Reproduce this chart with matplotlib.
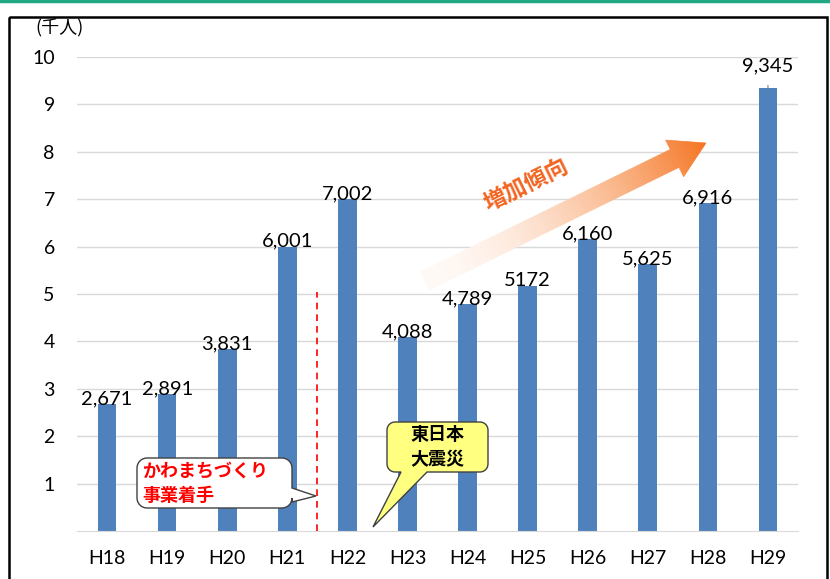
import numpy as np
import matplotlib
matplotlib.use("Agg")
import matplotlib.pyplot as plt
from matplotlib.patches import Polygon, Rectangle

plt.rcParams['font.family'] = ['Lato', 'Noto Sans CJK JP', 'DejaVu Sans']

# data (thousand people)
years = ["H18", "H19", "H20", "H21", "H22", "H23", "H24", "H25", "H26", "H27", "H28", "H29"]
visitors = [2.671, 2.891, 3.831, 6.001, 7.002, 4.088, 4.789, 5.172, 6.160, 5.625, 6.916, 9.345]
value_labels = ["2,671", "2,891", "3,831", "6,001", "7,002", "4,088", "4,789", "5172",
                "6,160", "5,625", "6,916", "9,345"]
y_ticks = [1, 2, 3, 4, 5, 6, 7, 8, 9, 10]

BAR_COLOR = "#4F81BD"
GRID_COLOR = "#D9D9D9"
JP = ['Noto Sans CJK JP', 'DejaVu Sans']

fig = plt.figure(figsize=(8.30, 5.79), dpi=100)
W, H = 830, 579
ax = fig.add_axes([77 / W, 1 - 531 / H, 721 / W, 474 / H])

x = np.arange(len(years))
ax.bar(x, visitors, width=0.31, color=BAR_COLOR, zorder=2)
ax.set_xlim(-0.5, len(years) - 0.5)
ax.set_ylim(0, 10)
ax.set_yticks(y_ticks)
ax.set_xticks(x)
ax.set_xticklabels(years)
ax.yaxis.grid(True, color=GRID_COLOR, lw=1)
ax.set_axisbelow(True)
for s in ["top", "right", "left"]:
    ax.spines[s].set_visible(False)
ax.spines["bottom"].set_color(GRID_COLOR)
ax.tick_params(axis="y", length=0, pad=16, labelsize=14)
ax.tick_params(axis="x", length=0, pad=14, labelsize=14)

# value labels above bars
for i, (v, lab) in enumerate(zip(visitors, value_labels)):
    if i == len(visitors) - 1:
        ax.annotate(lab, xy=(i, v), xytext=(0, 16), textcoords="offset points",
                    ha="center", va="center", fontsize=14.5,
                    arrowprops=dict(arrowstyle="-", color="#808080", lw=0.8,
                                    shrinkA=6, shrinkB=0))
    else:
        ax.annotate(lab, xy=(i, v), xytext=(0, 4), textcoords="offset points",
                    ha="center", va="center", fontsize=14.5)

# dashed line: start of the riverside project (between H21 and H22)
ax.plot([3.5, 3.5], [0, 5.05], color="#FF0000", lw=1.2, ls=(0, (4, 3)), zorder=3)

# overlay in pixel coordinates for decorations
ov = fig.add_axes([0, 0, 1, 1], zorder=5)
ov.set_xlim(0, W)
ov.set_ylim(H, 0)
ov.axis("off")
ov.patch.set_alpha(0)

ov.plot([0, W], [1, 1], color="#20A884", lw=2.5)
ov.add_patch(Rectangle((9, 17), 818, 600, fill=False, lw=1.8, ec="black"))
ov.text(35, 28, "(千人)", fontsize=13, family=JP, ha="left", va="center")


def callout(x0, y0, x1, y1, r, edge, p1, p2, tip):
    pts = []

    def arc(cx, cy, a0, a1):
        for a in np.linspace(a0, a1, 8):
            pts.append((cx + r * np.cos(a), cy + r * np.sin(a)))

    arc(x0 + r, y0 + r, np.pi, 1.5 * np.pi)
    arc(x1 - r, y0 + r, 1.5 * np.pi, 2 * np.pi)
    if edge == "right":
        pts.extend([(x1, p1), tip, (x1, p2)])
    arc(x1 - r, y1 - r, 0, 0.5 * np.pi)
    if edge == "bottom":
        pts.extend([(p2, y1), tip, (p1, y1)])
    arc(x0 + r, y1 - r, 0.5 * np.pi, np.pi)
    return pts


ov.add_patch(Polygon(callout(137, 458, 292, 508, 10, "right", 488, 502, (316, 496)),
                     closed=True, fc="white", ec="#404040", lw=1))
ov.text(142, 471, "かわまちづくり", color="#FF0000", fontsize=13, fontweight="bold",
        family=JP, ha="left", va="center")
ov.text(142, 495, "事業着手", color="#FF0000", fontsize=13, fontweight="bold",
        family=JP, ha="left", va="center")

ov.add_patch(Polygon(callout(387, 422, 488, 472, 8, "bottom", 401, 427, (373, 527)),
                     closed=True, fc="#FFFF80", ec="#404040", lw=1))
ov.text(437, 435, "東日本", fontsize=13, fontweight="bold", family=JP,
        ha="center", va="center")
ov.text(437, 460, "大震災", fontsize=13, fontweight="bold", family=JP,
        ha="center", va="center")

# gradient arrow "increasing trend"
tail = np.array([425.0, 281.0])
tip = np.array([706.0, 143.0])
d = tip - tail
L = np.hypot(*d)
u = d / L
nrm = np.array([u[1], -u[0]])
hw_shaft, hw_head, head_len = 10.0, 20.5, 35.0
Lb = L - head_len
orange = np.array([0.96, 0.45, 0.12])
s_vals = np.concatenate([np.linspace(0, Lb, 60), np.linspace(Lb, L, 16)[1:]])
for s0, s1 in zip(s_vals[:-1], s_vals[1:]):
    if s1 <= Lb + 1e-9:
        w0 = w1 = hw_shaft
    else:
        w0 = hw_head * (L - s0) / head_len
        w1 = hw_head * (L - s1) / head_len
    c0 = tail + u * s0
    c1 = tail + u * s1
    quad = [c0 + nrm * w0, c1 + nrm * w1, c1 - nrm * w1, c0 - nrm * w0]
    t = (s0 + s1) / 2 / L
    a = 0.04 + 0.96 * t ** 1.8
    col = (1 - a) * np.ones(3) + a * orange
    ov.add_patch(Polygon(quad, closed=True, fc=col, ec=col, lw=0.4))

angle = np.degrees(np.arctan2(d[1] * -1, d[0]))
ov.text(527, 186, "増加傾向", color="#F26522", fontsize=16.5, fontweight="bold",
        family=JP, rotation=angle, ha="center", va="center", rotation_mode="anchor")

fig.savefig("out.png", dpi=100)
